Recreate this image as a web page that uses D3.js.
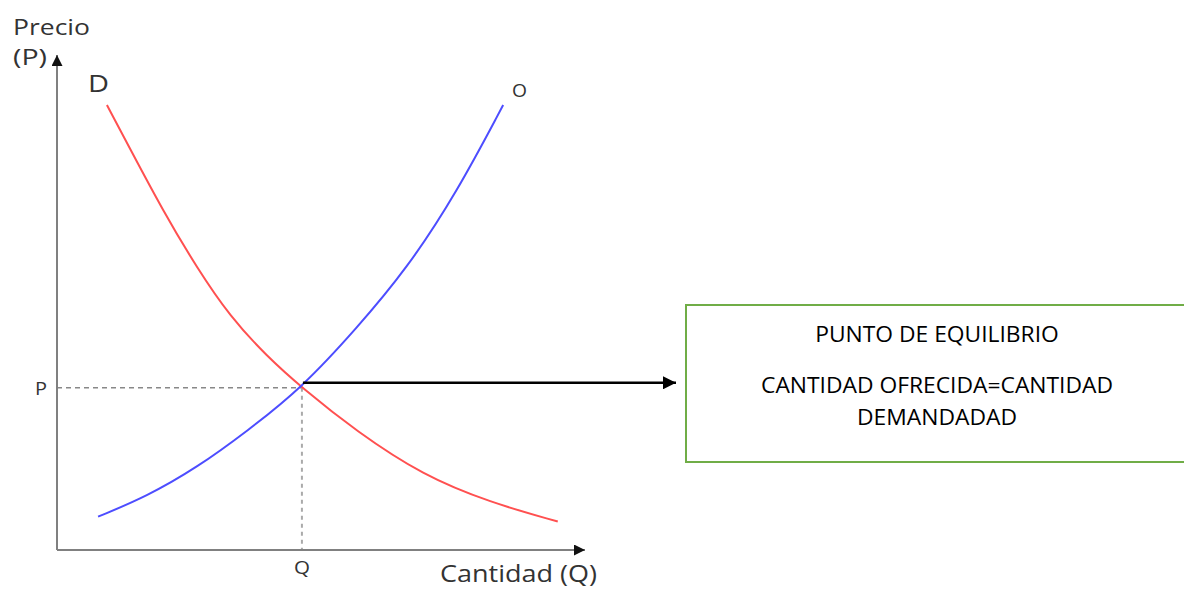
<!DOCTYPE html>
<html>
<head>
<meta charset="utf-8">
<script src="https://cdn.jsdelivr.net/npm/d3@7"></script>
<style>
  body { margin: 0; background: #fff; }
  text { font-family: "Open Sans", "Noto Sans", sans-serif; }
</style>
</head>
<body>
<svg id="chart" width="1184" height="590"></svg>
<script>
// curves (quantity, price)
var demandQ = [0.96, 1.40, 2.04, 2.69, 3.33, 4.03, 4.71, 5.76, 7.04, 8.33, 9.63]
var demandP = [9.08, 8.20, 6.92, 5.76, 4.76, 3.96, 3.31, 2.42, 1.52, 0.97, 0.58]
var supplyQ = [0.79, 1.72, 2.69, 3.65, 4.71, 5.76, 6.73, 7.69, 8.58]
var supplyP = [0.68, 1.09, 1.68, 2.42, 3.31, 4.52, 5.74, 7.30, 9.08]
var equilibrium = [4.71, 3.31]
var boxLines = ['PUNTO DE EQUILIBRIO', 'CANTIDAD OFRECIDA=CANTIDAD', 'DEMANDADAD']

var svg = d3.select('#chart')
var x = d3.scaleLinear().domain([0, 10]).range([57, 577])
var y = d3.scaleLinear().domain([0, 10]).range([550, 60])

var defs = svg.append('defs')
function marker(id, color, w, h) {
    defs.append('marker').attr('id', id)
        .attr('viewBox', '0 0 10 10').attr('refX', 10).attr('refY', 5)
        .attr('markerUnits', 'userSpaceOnUse')
        .attr('markerWidth', w).attr('markerHeight', h)
        .attr('orient', 'auto')
        .append('path').attr('d', 'M0,0 L10,5 L0,10 z').attr('fill', color)
}
marker('axArrow', '#111', 14, 11)
marker('eqArrow', '#000', 14, 13)

// dashed guides
svg.append('line')
    .attr('x1', x(0)).attr('x2', x(equilibrium[0]))
    .attr('y1', y(equilibrium[1])).attr('y2', y(equilibrium[1]))
    .attr('stroke', '#888').attr('stroke-width', 1.4).attr('stroke-dasharray', '5,4')
svg.append('line')
    .attr('x1', x(equilibrium[0])).attr('x2', x(equilibrium[0]))
    .attr('y1', y(equilibrium[1])).attr('y2', y(0))
    .attr('stroke', '#aaa').attr('stroke-width', 2).attr('stroke-dasharray', '4,4')

// axes
svg.append('line')
    .attr('x1', x(0)).attr('y1', y(0)).attr('x2', x(0)).attr('y2', y(0) - 495)
    .attr('stroke', '#808080').attr('stroke-width', 2).attr('marker-end', 'url(#axArrow)')
svg.append('line')
    .attr('x1', x(0)).attr('y1', y(0)).attr('x2', x(0) + 528).attr('y2', y(0))
    .attr('stroke', '#808080').attr('stroke-width', 2).attr('marker-end', 'url(#axArrow)')

var line = d3.line()
    .x(d => x(d[0]))
    .y(d => y(d[1]))
    .curve(d3.curveBasis)

svg.append('path')
    .attr('d', line(d3.zip(demandQ, demandP)))
    .attr('fill', 'none').attr('stroke', '#ff5050').attr('stroke-width', 2)
svg.append('path')
    .attr('d', line(d3.zip(supplyQ, supplyP)))
    .attr('fill', 'none').attr('stroke', '#4d4dff').attr('stroke-width', 2)

// arrow to the box
svg.append('line')
    .attr('x1', x(equilibrium[0]) + 1).attr('x2', 676)
    .attr('y1', y(equilibrium[1]) - 5).attr('y2', y(equilibrium[1]) - 5)
    .attr('stroke', '#000').attr('stroke-width', 2.5).attr('marker-end', 'url(#eqArrow)')

// box
svg.append('rect')
    .attr('x', 686).attr('y', 305).attr('width', 520).attr('height', 157)
    .attr('fill', '#fff').attr('stroke', '#70ad47').attr('stroke-width', 2)
var bt = svg.selectAll('.boxtext').data(boxLines).enter()
    .append('text').attr('class', 'boxtext')
    .attr('x', 937)
    .attr('y', (d, i) => [342, 393, 425][i])
    .attr('text-anchor', 'middle')
    .attr('font-size', 21)
    .attr('fill', '#000')
    .text(d => d)
// the picture is a little wider than the font, stretch all lines alike
var sx = 352 / bt.nodes()[1].getComputedTextLength()
bt.each(function () {
    d3.select(this).attr('textLength', this.getComputedTextLength() * sx)
        .attr('lengthAdjust', 'spacingAndGlyphs')
})

// labels
var labels = [
    ['Precio', 13, 35, 21, 77, 'start'],
    ['(P)', 13, 65, 21, 34, 'start'],
    ['D', 88, 92, 24, 21, 'start'],
    ['O', 512, 97, 18, 15, 'start'],
    ['P', 35, 395, 19, 12, 'start'],
    ['Q', 302, 574, 18, 16, 'middle'],
    ['Cantidad (Q)', 440, 582, 24, 157, 'start']
]
svg.append('g').attr('fill', '#333').selectAll('text').data(labels).enter()
    .append('text')
    .attr('x', d => d[1]).attr('y', d => d[2])
    .attr('font-size', d => d[3])
    .attr('textLength', d => d[4]).attr('lengthAdjust', 'spacingAndGlyphs')
    .attr('text-anchor', d => d[5])
    .text(d => d[0])
</script>
</body>
</html>
